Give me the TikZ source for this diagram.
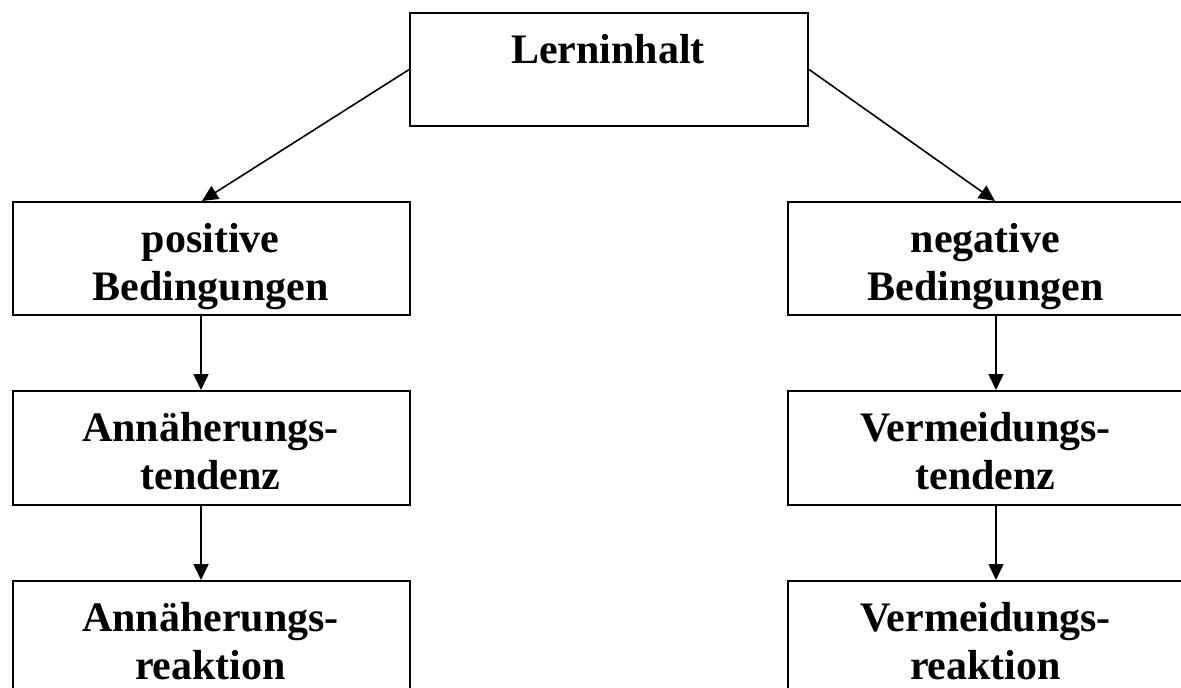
\documentclass[tikz,border=0pt]{standalone}
\usepackage{fontspec}
\setmainfont{Liberation Serif}
\usetikzlibrary{arrows.meta,calc}
\begin{document}
\begin{tikzpicture}[x=1pt,y=-1pt,
  box/.style={draw, line width=2.2pt, rectangle, minimum width=397pt, minimum height=113pt, anchor=north west, inner sep=0pt},
  lbl/.style={anchor=base, inner sep=0pt, font=\fontsize{42}{48}\selectfont\bfseries},
  conn/.style={line width=1.6pt, -{Triangle[length=16pt,width=15pt]}}]
\clip (0,0) rectangle (1181,688);
% boxes
\node[box, minimum width=398pt] (lern) at (409,12) {};
\node[box] (pos) at (12,201) {};
\node[box] (neg) at (787,201) {};
\node[box, minimum height=114pt] (ann) at (12,390) {};
\node[box, minimum height=114pt] (verm) at (787,390) {};
\node[box, minimum height=114pt] (annr) at (12,580) {};
\node[box, minimum height=114pt] (vermr) at (787,580) {};
% texts
\node[lbl] (tlern) at (608,63) {Lerninhalt};
\node[lbl] (tpos) at (210.5,252) {\begin{tabular}[t]{@{}c@{}}positive\\Bedingungen\end{tabular}};
\node[lbl] (tneg) at (985.5,252) {\begin{tabular}[t]{@{}c@{}}negative\\Bedingungen\end{tabular}};
\node[lbl] (tann) at (210.5,441) {\begin{tabular}[t]{@{}c@{}}Annäherungs-\\tendenz\end{tabular}};
\node[lbl] (tverm) at (985.5,441) {\begin{tabular}[t]{@{}c@{}}Vermeidungs-\\tendenz\end{tabular}};
\node[lbl] (tannr) at (210.5,631) {\begin{tabular}[t]{@{}c@{}}Annäherungs-\\reaktion\end{tabular}};
\node[lbl] (tvermr) at (985.5,631) {\begin{tabular}[t]{@{}c@{}}Vermeidungs-\\reaktion\end{tabular}};
% connectors
\draw[conn] (lern.west) -- ($(pos.north west)+(190,0)$);
\draw[conn] (lern.east) -- ($(neg.north west)+(208,0)$);
\draw[conn] ($(pos.south west)+(189,0)$) -- ($(ann.north west)+(189,0)$);
\draw[conn] ($(ann.south west)+(189,0)$) -- ($(annr.north west)+(189,0)$);
\draw[conn] ($(neg.south west)+(209,0)$) -- ($(verm.north west)+(209,0)$);
\draw[conn] ($(verm.south west)+(209,0)$) -- ($(vermr.north west)+(209,0)$);
\end{tikzpicture}
\end{document}
